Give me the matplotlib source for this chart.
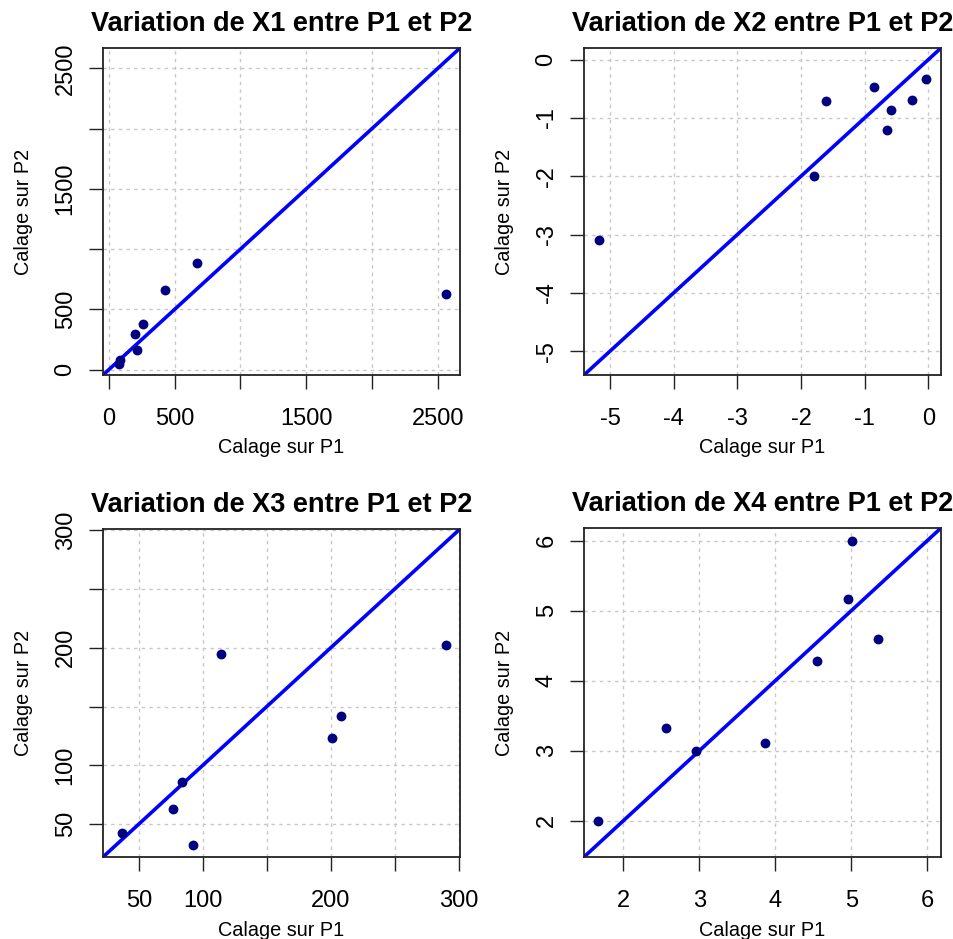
import matplotlib
matplotlib.use("Agg")
import matplotlib.pyplot as plt

plt.rcParams['font.family'] = ['Liberation Sans', 'DejaVu Sans']

# donnees (calage P1 -> calage P2)
x1_p1 = [86, 76, 196, 259, 213, 424, 671, 2564]
x1_p2 = [82, 47, 297, 379, 165, 659, 887, 626]

x2_p1 = [-5.18, -1.80, -1.61, -0.85, -0.65, -0.59, -0.25, -0.03]
x2_p2 = [-3.09, -2.00, -0.71, -0.47, -1.20, -0.86, -0.69, -0.34]

x3_p1 = [37, 77, 84, 92, 114, 201, 208, 290]
x3_p2 = [42, 63, 86, 32, 195, 123, 142, 202]

x4_p1 = [1.67, 2.56, 2.95, 3.86, 4.55, 4.95, 5.01, 5.35]
x4_p2 = [1.99, 3.32, 3.00, 3.11, 4.28, 5.17, 6.00, 4.60]

titres = ["Variation de X1 entre P1 et P2", "Variation de X2 entre P1 et P2",
          "Variation de X3 entre P1 et P2", "Variation de X4 entre P1 et P2"]

ticks1 = [0, 500, 1000, 1500, 2000, 2500]
labels1 = ["0", "500", "", "1500", "", "2500"]
ticks2 = [-5, -4, -3, -2, -1, 0]
labels2 = ["-5", "-4", "-3", "-2", "-1", "0"]
ticks3 = [50, 100, 150, 200, 250, 300]
labels3 = ["50", "100", "", "200", "", "300"]
ticks4 = [2, 3, 4, 5, 6]
labels4 = ["2", "3", "4", "5", "6"]

lims = [(-45, 2670), (-5.41, 0.2), (22, 301), (1.48, 6.18)]

W, H = 954, 939
fig = plt.figure(figsize=(W / 100, H / 100), dpi=100)

# position des cadres en pixels (gauche, haut, droite, bas)
cadres = [(103, 48, 460, 375), (584, 48, 941, 375),
          (103, 529, 460, 857), (584, 528, 941, 857)]

donnees = [(x1_p1, x1_p2, ticks1, labels1), (x2_p1, x2_p2, ticks2, labels2),
           (x3_p1, x3_p2, ticks3, labels3), (x4_p1, x4_p2, ticks4, labels4)]

for i in range(4):
    g, h, d, b = cadres[i]
    ax = fig.add_axes([g / W, 1 - b / H, (d - g) / W, (b - h) / H])
    xp1, xp2, tk, lb = donnees[i]

    ax.set_xlim(lims[i])
    ax.set_ylim(lims[i])
    ax.set_xticks(tk)
    ax.set_xticklabels(lb)
    ax.set_yticks(tk)
    ax.set_yticklabels(lb, rotation=90, va='center')
    ax.grid(True, color='#c8c8c8', linestyle=(0, (2.5, 3)), linewidth=1)
    ax.set_axisbelow(True)

    ax.axline((0, 0), slope=1, color='#0000ff', linewidth=2.6, zorder=2)
    ax.scatter(xp1, xp2, s=50, color='#000080', zorder=3, linewidths=0)

    ax.tick_params(axis='both', length=10, width=1, labelsize=17, color='#222222')
    ax.tick_params(axis='x', pad=14)
    ax.tick_params(axis='y', pad=9)
    for s in ax.spines.values():
        s.set_linewidth(1.3)
        s.set_color('#222222')

    ax.set_title(titres[i], fontsize=19.5, fontweight='bold', pad=12)
    ax.set_xlabel("Calage sur P1", fontsize=14.3)
    ax.set_ylabel("Calage sur P2", fontsize=14.3)
    ax.xaxis.set_label_coords(0.5, -0.223)
    ax.xaxis.label.set_va('center')
    ax.yaxis.set_label_coords(-0.224, 0.5)
    ax.yaxis.label.set_va('center')

fig.savefig("out.png", dpi=100)
